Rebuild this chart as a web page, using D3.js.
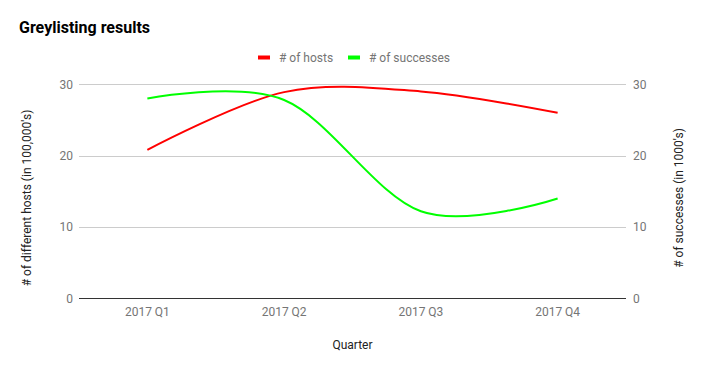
<!DOCTYPE html>
<html><head><meta charset="utf-8">
<script src="https://cdn.jsdelivr.net/npm/d3@7"></script>
<style>body{margin:0;background:#fff;}svg{display:block;font-family:Roboto,Arial,sans-serif;}</style>
</head><body><svg id="c" width="705" height="371"></svg>
<script>
const quarters = ["2017 Q1","2017 Q2","2017 Q3","2017 Q4"];
const hosts = [20.8, 28.9, 29.0, 26.0];
const successes = [28.0, 27.8, 12.2, 14.0];
const yTicks = [0, 10, 20, 30];
const seriesNames = ["# of hosts", "# of successes"];
const seriesColors = ["#ff0000", "#00ff00"];

const svg = d3.select("#c");
const W = 705, H = 371;
const m = {left: 79, right: 79, top: 84.3, bottom: 72.7};
const x = d3.scaleBand().domain(quarters).range([m.left, W - m.right]);
const yL = d3.scaleLinear().domain([0, 30]).range([H - m.bottom, m.top]);
const yR = d3.scaleLinear().domain([0, 30]).range([H - m.bottom, m.top]);

// gridlines
svg.append("g").selectAll("line").data(yTicks.filter(d => d !== 0)).join("line")
  .attr("x1", m.left).attr("x2", W - m.right)
  .attr("y1", d => Math.round(yL(d)) + 0.5).attr("y2", d => Math.round(yL(d)) + 0.5)
  .attr("stroke", "#cccccc").attr("stroke-width", 1);

// left axis labels
const axL = svg.append("g").attr("transform", `translate(${m.left},0)`)
  .call(d3.axisLeft(yL).tickValues(yTicks).tickSize(0).tickPadding(6));
axL.select(".domain").remove();
axL.selectAll("text").attr("fill", "#757575").style("font-size", "12px").style("font-family", "Roboto");

const axR = svg.append("g").attr("transform", `translate(${W - m.right},0)`)
  .call(d3.axisRight(yR).tickValues(yTicks).tickSize(0).tickPadding(7));
axR.select(".domain").remove();
axR.selectAll("text").attr("fill", "#757575").style("font-size", "12px").style("font-family", "Roboto");

// x axis labels
const axX = svg.append("g").attr("transform", `translate(0,${H - m.bottom})`)
  .call(d3.axisBottom(x).tickSize(0).tickPadding(9));
axX.select(".domain").remove();
axX.selectAll("text").attr("fill", "#757575").style("font-size", "12px").style("font-family", "Roboto");

// lines
const mk = (vals, sc) => d3.line()
  .x((d, i) => x(quarters[i]) + x.bandwidth() / 2)
  .y(d => sc(d))
  .curve(d3.curveCardinal.tension(0))(vals);
svg.append("path").attr("d", mk(hosts, yL)).attr("fill", "none")
  .attr("stroke", seriesColors[0]).attr("stroke-width", 2);
svg.append("path").attr("d", mk(successes, yR)).attr("fill", "none")
  .attr("stroke", seriesColors[1]).attr("stroke-width", 2);

// baseline
svg.append("line").attr("x1", m.left).attr("x2", W - m.right)
  .attr("y1", Math.round(yL(0)) + 0.5).attr("y2", Math.round(yL(0)) + 0.5)
  .attr("stroke", "#333333").attr("stroke-width", 1);

// title
svg.append("text").attr("x", 19).attr("y", 33).text("Greylisting results")
  .attr("font-weight", "bold").attr("font-size", 16).attr("fill", "#000");

// legend
const legX = [258, 348];
seriesNames.forEach((n, i) => {
  svg.append("rect").attr("x", legX[i]).attr("y", 55.5).attr("width", 12).attr("height", 4)
    .attr("fill", seriesColors[i]);
  svg.append("text").attr("x", legX[i] + 21).attr("y", 62).text(n)
    .attr("font-size", 12).attr("fill", "#757575");
});

// axis titles
svg.append("text").attr("x", 352.5).attr("y", 349.3).attr("text-anchor", "middle")
  .text("Quarter").attr("font-size", 12).attr("fill", "#222");
svg.append("text").attr("transform", "translate(31,198) rotate(-90)").attr("text-anchor", "middle")
  .text("# of different hosts (in 100,000's)").attr("font-size", 12).attr("fill", "#222");
svg.append("text").attr("transform", "translate(683,198) rotate(-90)").attr("text-anchor", "middle")
  .text("# of successes (in 1000's)").attr("font-size", 12).attr("fill", "#222");
</script></body></html>
